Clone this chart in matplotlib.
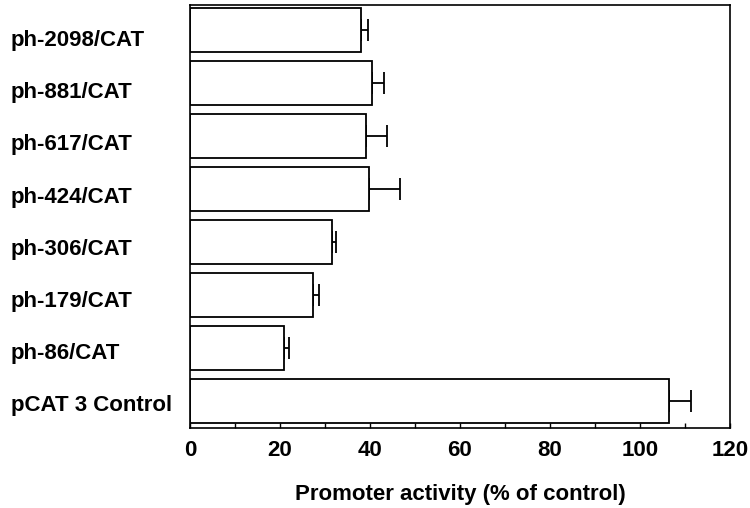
import matplotlib
matplotlib.use('Agg')
import matplotlib.pyplot as plt
from matplotlib.ticker import MultipleLocator
import numpy as np

plt.rcParams['font.family'] = ['Liberation Sans', 'DejaVu Sans']
plt.rcParams['font.weight'] = 'bold'

constructs = ["ph-2098/CAT", "ph-881/CAT", "ph-617/CAT", "ph-424/CAT",
              "ph-306/CAT", "ph-179/CAT", "ph-86/CAT", "pCAT 3 Control"]
activity = [38.0, 40.4, 39.1, 39.8, 31.6, 27.3, 20.9, 106.4]
activity_err = [1.6, 2.7, 4.7, 6.9, 0.8, 1.4, 1.1, 4.9]

fig = plt.figure(figsize=(7.5, 5.08), dpi=100)
ax = fig.add_axes([0.2533, 0.1575, 0.72, 0.8327])

pos = np.arange(len(constructs))
lo = np.zeros(len(activity_err))
ax.errorbar(activity, pos, xerr=[lo, activity_err], fmt='none', ecolor='black',
            elinewidth=1.3, capsize=7.9, capthick=1.3, zorder=1)
ax.barh(pos, activity, height=0.83, color='white', edgecolor='black',
        linewidth=1.3, zorder=2)

ax.set_xlim(0, 120)
ax.set_ylim(7.51, -0.472)
ax.xaxis.set_major_locator(MultipleLocator(20))
ax.xaxis.set_minor_locator(MultipleLocator(10))
ax.tick_params(axis='x', which='both', direction='in', length=3.6, width=1,
               labelsize=16, pad=9)

# labels are left aligned at the figure edge, slightly lower than the bars
ax.set_yticks(pos * 0.985 + 0.15)
ax.set_yticklabels(constructs, ha='left', fontsize=16, fontweight='bold')
ax.tick_params(axis='y', length=0, pad=129)

for s in ax.spines.values():
    s.set_linewidth(1.2)

ax.set_xlabel("Promoter activity (% of control)", fontsize=16,
              fontweight='bold', labelpad=16)

fig.savefig("out.png", dpi=100)
